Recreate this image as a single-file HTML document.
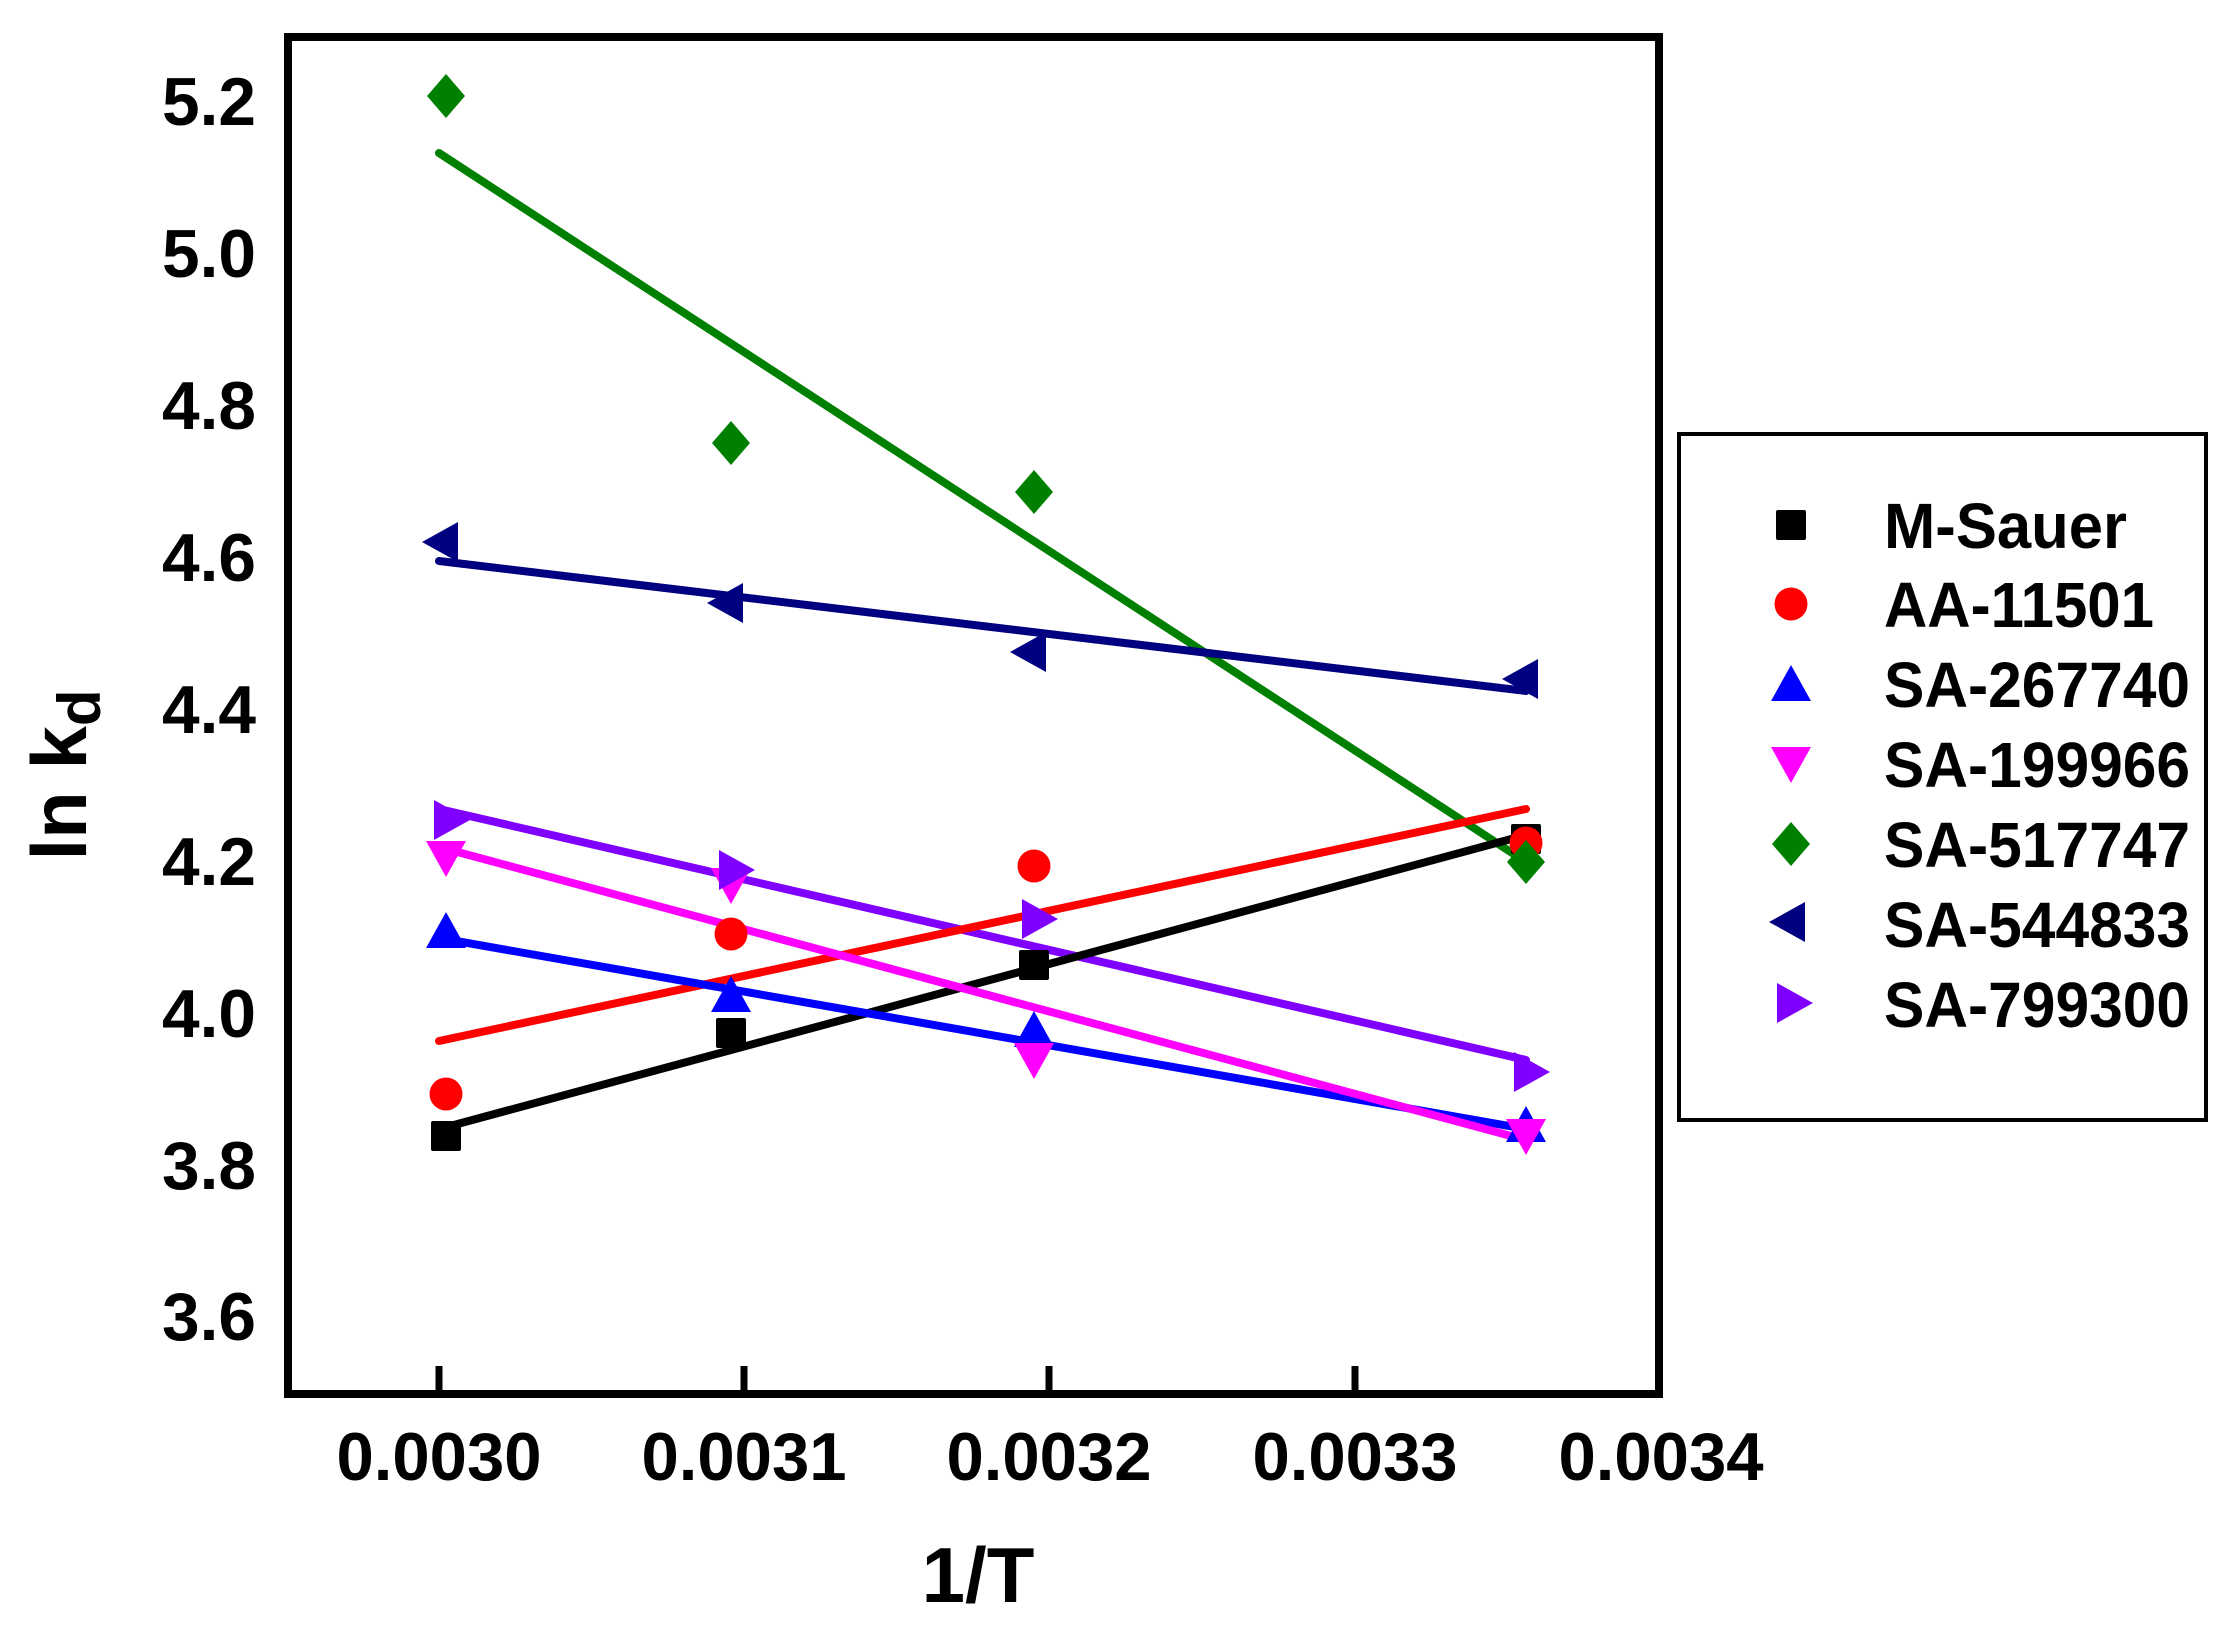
<!DOCTYPE html>
<html><head><meta charset="utf-8"><style>html,body{margin:0;padding:0;background:#fff}svg{display:block}</style></head>
<body>
<svg width="2230" height="1648" viewBox="0 0 2230 1648" xmlns="http://www.w3.org/2000/svg" font-family="'Liberation Sans', sans-serif" font-weight="bold">
<rect width="2230" height="1648" fill="#fff"/>
<defs>
<rect id="sq" x="-15" y="-15" width="30" height="30" rx="2"/>
<circle id="ci" r="16.5"/>
<polygon id="up" points="0,-19 20,17 -20,17"/>
<polygon id="dn" points="0,19 20,-17 -20,-17"/>
<polygon id="di" points="0,-22 19,0 0,22 -19,0"/>
<polygon id="lt" points="-19,0 17,-20 17,20"/>
<polygon id="rt" points="19,0 -17,-20 -17,20"/>
</defs>
<g transform="translate(0,-6)">
<g stroke-width="8" stroke-linecap="round" fill="none">
<line x1="439" y1="159" x2="1526" y2="868" stroke="#008000"/>
<line x1="439" y1="567" x2="1526" y2="697" stroke="#000080"/>
<line x1="439" y1="815" x2="1526" y2="1066" stroke="#8000ff"/>
<line x1="439" y1="1047" x2="1526" y2="815" stroke="#ff0000"/>
<line x1="439" y1="1135" x2="1526" y2="841" stroke="#000000"/>
<line x1="439" y1="944" x2="1526" y2="1135" stroke="#0000ff"/>
<line x1="439" y1="853" x2="1526" y2="1146" stroke="#ff00ff"/>
</g>
<g fill="#000"><use href="#sq" x="446" y="1142"/><use href="#sq" x="731" y="1039"/><use href="#sq" x="1034" y="971"/><use href="#sq" x="1526" y="845"/></g>
<g fill="#ff0000"><use href="#ci" x="446" y="1100"/><use href="#ci" x="731" y="940"/><use href="#ci" x="1034" y="872"/><use href="#ci" x="1526" y="849"/></g>
<g fill="#0000ff"><use href="#up" x="446" y="937"/><use href="#up" x="731" y="1001"/><use href="#up" x="1034" y="1036"/><use href="#up" x="1526" y="1131"/></g>
<g fill="#ff00ff"><use href="#dn" x="446" y="864"/><use href="#dn" x="731" y="891"/><use href="#dn" x="1034" y="1066"/><use href="#dn" x="1526" y="1142"/></g>
<g fill="#008000"><use href="#di" x="446" y="102"/><use href="#di" x="731" y="449"/><use href="#di" x="1034" y="498"/><use href="#di" x="1526" y="868"/></g>
<g fill="#000080"><use href="#lt" x="441" y="548"/><use href="#lt" x="726" y="609"/><use href="#lt" x="1029" y="658"/><use href="#lt" x="1521" y="685"/></g>
<g fill="#8000ff"><use href="#rt" x="451" y="826"/><use href="#rt" x="736" y="876"/><use href="#rt" x="1039" y="925"/><use href="#rt" x="1531" y="1078"/></g>
<g font-size="68" text-anchor="end">
<text x="256" y="131" textLength="94" lengthAdjust="spacingAndGlyphs">5.2</text>
<text x="256" y="283" textLength="94" lengthAdjust="spacingAndGlyphs">5.0</text>
<text x="256" y="435" textLength="94" lengthAdjust="spacingAndGlyphs">4.8</text>
<text x="256" y="587" textLength="94" lengthAdjust="spacingAndGlyphs">4.6</text>
<text x="256" y="739" textLength="94" lengthAdjust="spacingAndGlyphs">4.4</text>
<text x="256" y="891" textLength="94" lengthAdjust="spacingAndGlyphs">4.2</text>
<text x="256" y="1043" textLength="94" lengthAdjust="spacingAndGlyphs">4.0</text>
<text x="256" y="1195" textLength="94" lengthAdjust="spacingAndGlyphs">3.8</text>
<text x="256" y="1346" textLength="94" lengthAdjust="spacingAndGlyphs">3.6</text>
</g>
</g>
<rect x="288" y="37" width="1371" height="1357" fill="none" stroke="#000" stroke-width="8"/>
<g stroke="#000" stroke-width="7">
<line x1="439" y1="1394" x2="439" y2="1366"/>
<line x1="744" y1="1394" x2="744" y2="1366"/>
<line x1="1049" y1="1394" x2="1049" y2="1366"/>
<line x1="1355" y1="1394" x2="1355" y2="1366"/>
</g>
<g font-size="68" text-anchor="middle">
<text x="439" y="1480" textLength="205" lengthAdjust="spacingAndGlyphs">0.0030</text>
<text x="744" y="1480" textLength="205" lengthAdjust="spacingAndGlyphs">0.0031</text>
<text x="1049" y="1480" textLength="205" lengthAdjust="spacingAndGlyphs">0.0032</text>
<text x="1355" y="1480" textLength="205" lengthAdjust="spacingAndGlyphs">0.0033</text>
<text x="1661" y="1480" textLength="205" lengthAdjust="spacingAndGlyphs">0.0034</text>
</g>
<text x="978" y="1602" font-size="78" text-anchor="middle">1/T</text>
<text transform="translate(86,775) rotate(-90)" font-size="78" text-anchor="middle">ln k<tspan font-size="60" dy="14">d</tspan></text>
<rect x="1679" y="434" width="527" height="686" fill="none" stroke="#000" stroke-width="4"/>
<use href="#sq" x="1791" y="525" fill="#000"/>
<use href="#ci" x="1791" y="604" fill="#ff0000"/>
<use href="#up" x="1791" y="684" fill="#0000ff"/>
<use href="#dn" x="1791" y="764" fill="#ff00ff"/>
<use href="#di" x="1791" y="844" fill="#008000"/>
<use href="#lt" x="1788" y="922" fill="#000080"/>
<use href="#rt" x="1794" y="1003" fill="#8000ff"/>
<g font-size="64">
<text x="1884" y="548" textLength="243" lengthAdjust="spacingAndGlyphs">M-Sauer</text>
<text x="1884" y="627" textLength="270" lengthAdjust="spacingAndGlyphs">AA-11501</text>
<text x="1884" y="707" textLength="306" lengthAdjust="spacingAndGlyphs">SA-267740</text>
<text x="1884" y="787" textLength="306" lengthAdjust="spacingAndGlyphs">SA-199966</text>
<text x="1884" y="867" textLength="306" lengthAdjust="spacingAndGlyphs">SA-517747</text>
<text x="1884" y="947" textLength="306" lengthAdjust="spacingAndGlyphs">SA-544833</text>
<text x="1884" y="1027" textLength="306" lengthAdjust="spacingAndGlyphs">SA-799300</text>
</g>
</svg>
</body></html>
